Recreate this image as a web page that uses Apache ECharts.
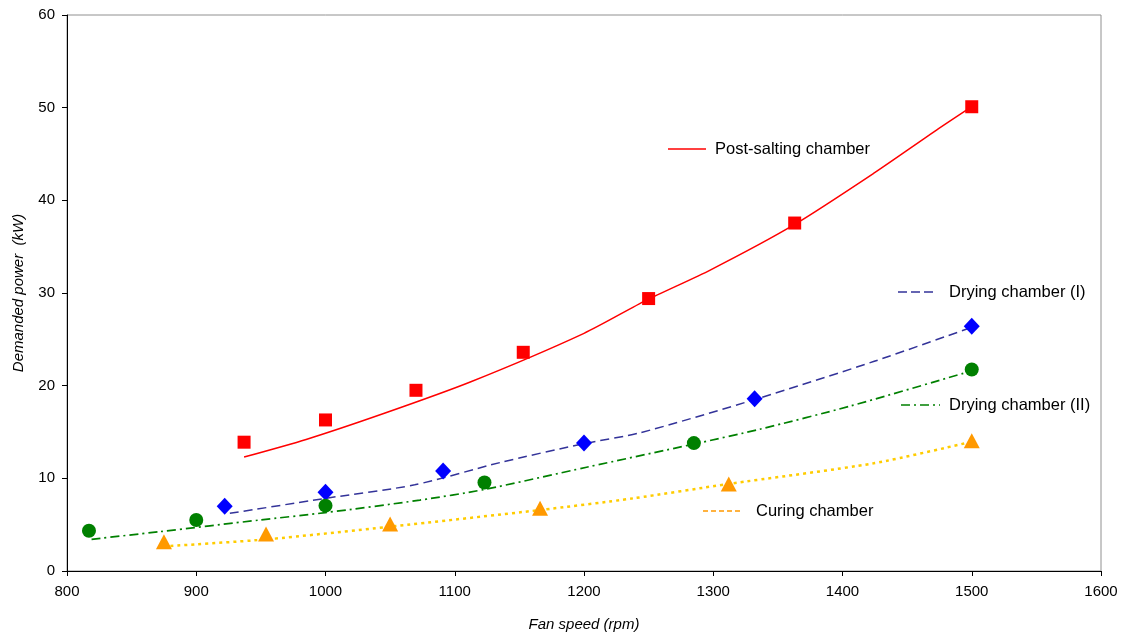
<!DOCTYPE html>
<html>
<head>
<meta charset="utf-8">
<script src="https://cdn.jsdelivr.net/npm/echarts@6/dist/echarts.min.js"></script>
<style>
  html, body { margin: 0; padding: 0; background: #fff; }
  #chart { width: 1129px; height: 636px; }
</style>
</head>
<body>
<div id="chart"></div>
<script>
// ---- Data ----
const xTicks = [800, 900, 1000, 1100, 1200, 1300, 1400, 1500, 1600];
const yTicks = [0, 10, 20, 30, 40, 50, 60];

const seriesNames = ['Post-salting chamber', 'Drying chamber (I)', 'Drying chamber (II)', 'Curing chamber'];

// measured points
const postSaltingRpm = [937, 1000, 1070, 1153, 1250, 1363, 1500];
const postSaltingKW  = [13.9, 16.3, 19.5, 23.6, 29.4, 37.55, 50.1];
const dryingIRpm = [922, 1000, 1091, 1200, 1332, 1500];
const dryingIKW  = [7.0, 8.5, 10.8, 13.8, 18.6, 26.4];
const dryingIIRpm = [817, 900, 1000, 1123, 1285, 1500];
const dryingIIKW  = [4.35, 5.5, 7.05, 9.55, 13.8, 21.75];
const curingRpm = [875, 954, 1050, 1166, 1312, 1500];
const curingKW  = [3.15, 4.0, 5.07, 6.76, 9.4, 14.05];

// fitted trend curves
const postSaltingFitRpm = [937, 985, 1045, 1112, 1200, 1248, 1298, 1363, 1424, 1473, 1500];
const postSaltingFitKW  = [12.3, 14.2, 17.0, 20.4, 25.65, 29.2, 32.5, 37.4, 42.9, 47.6, 50.1];
const dryingIFitRpm = [926, 1000, 1069, 1135, 1200, 1243, 1332, 1424, 1500];
const dryingIFitKW  = [6.22, 7.84, 9.3, 11.7, 13.75, 14.9, 18.5, 22.6, 26.3];
const dryingIIFitRpm = [819, 872, 949, 1000, 1073, 1123, 1202, 1285, 1336, 1406, 1500];
const dryingIIFitKW  = [3.42, 4.25, 5.5, 6.3, 7.65, 8.8, 11.2, 13.7, 15.3, 17.8, 21.6];
const curingFitRpm = [880, 955, 1050, 1166, 1238, 1312, 1424, 1500];
const curingFitKW  = [2.7, 3.42, 4.79, 6.58, 7.84, 9.4, 11.62, 13.95];

// ---- helpers ----
const zip = (xs, ys) => xs.map((x, i) => [x, ys[i]]);
const FONT = "'Liberation Sans', Arial, sans-serif";

const chart = echarts.init(document.getElementById('chart'), null, { renderer: 'canvas' });

function fitSeries(name, xs, ys, color, width, dash) {
  return {
    name: name, type: 'line', data: zip(xs, ys), smooth: 0.25,
    symbol: 'none', silent: true, z: 2,
    lineStyle: { color: color, width: width, type: dash }
  };
}
function pointSeries(name, xs, ys, symbol, size, color) {
  return {
    name: name + ' (data)', type: 'scatter', data: zip(xs, ys),
    symbol: symbol, symbolSize: size, z: 3,
    itemStyle: { color: color, opacity: 1 }
  };
}

const option = {
  animation: false,
  backgroundColor: '#ffffff',
  textStyle: { fontFamily: FONT },
  grid: {
    left: 67, right: 28, top: 15, bottom: 65,
    outerBoundsMode: 'none', containLabel: false,
    show: true, borderColor: '#909090', borderWidth: 1, backgroundColor: 'transparent'
  },
  xAxis: {
    type: 'value', min: xTicks[0], max: xTicks[xTicks.length - 1], interval: 100,
    name: 'Fan speed (rpm)', nameLocation: 'middle', nameGap: 46,
    nameTextStyle: { fontFamily: FONT, fontSize: 15, fontStyle: 'italic', color: '#000' },
    axisLine: { lineStyle: { color: '#000', width: 1 } },
    axisTick: { show: true, inside: false, length: 5, lineStyle: { color: '#000' } },
    axisLabel: { fontFamily: FONT, fontSize: 15, color: '#000', margin: 13, formatter: v => String(v) },
    splitLine: { show: false }
  },
  yAxis: {
    type: 'value', min: yTicks[0], max: yTicks[yTicks.length - 1], interval: 10,
    name: 'Demanded power  (kW)', nameLocation: 'middle', nameGap: 41,
    nameTextStyle: { fontFamily: FONT, fontSize: 15, fontStyle: 'italic', color: '#000' },
    axisLine: { show: true, lineStyle: { color: '#000', width: 1 } },
    axisTick: { show: true, inside: false, length: 5, lineStyle: { color: '#000' } },
    axisLabel: { fontFamily: FONT, fontSize: 15, color: '#000', margin: 12, formatter: v => String(v) },
    splitLine: { show: false }
  },
  series: [
    fitSeries(seriesNames[0], postSaltingFitRpm, postSaltingFitKW, '#FF0000', 1.5, 'solid'),
    fitSeries(seriesNames[1], dryingIFitRpm, dryingIFitKW, '#333399', 1.5, [9, 5]),
    fitSeries(seriesNames[2], dryingIIFitRpm, dryingIIFitKW, '#008000', 1.7, [9, 4, 2, 4]),
    fitSeries(seriesNames[3], curingFitRpm, curingFitKW, '#FFCC00', 2.5, [3, 4]),
    pointSeries(seriesNames[0], postSaltingRpm, postSaltingKW, 'rect', 13, '#FF0000'),
    pointSeries(seriesNames[1], dryingIRpm, dryingIKW, 'diamond', [16, 17], '#0000FF'),
    pointSeries(seriesNames[2], dryingIIRpm, dryingIIKW, 'circle', 14, '#008000'),
    pointSeries(seriesNames[3], curingRpm, curingKW, 'triangle', [16, 15], '#FF9900')
  ],
  graphic: [
    // legend samples and labels placed inside the plot, as in the reference
    { type: 'line', shape: { x1: 668, y1: 149, x2: 706, y2: 149 }, style: { stroke: '#FF0000', lineWidth: 1.5 } },
    { type: 'text', x: 715, y: 149, style: { text: seriesNames[0], fontFamily: FONT, fontSize: 16.5, fill: '#000', verticalAlign: 'middle' } },
    { type: 'line', shape: { x1: 898, y1: 292, x2: 933, y2: 292 }, style: { stroke: '#333399', lineWidth: 1.5, lineDash: [9, 4] } },
    { type: 'text', x: 949, y: 292, style: { text: seriesNames[1], fontFamily: FONT, fontSize: 16.5, fill: '#000', verticalAlign: 'middle' } },
    { type: 'line', shape: { x1: 901, y1: 405, x2: 940, y2: 405 }, style: { stroke: '#008000', lineWidth: 1.5, lineDash: [9, 4, 2, 4] } },
    { type: 'text', x: 949, y: 405, style: { text: seriesNames[2], fontFamily: FONT, fontSize: 16.5, fill: '#000', verticalAlign: 'middle' } },
    { type: 'line', shape: { x1: 703, y1: 511, x2: 743, y2: 511 }, style: { stroke: '#FF9900', lineWidth: 1.5, lineDash: [5, 3] } },
    { type: 'text', x: 756, y: 511, style: { text: seriesNames[3], fontFamily: FONT, fontSize: 16.5, fill: '#000', verticalAlign: 'middle' } }
  ]
};
chart.setOption(option);
</script>
</body>
</html>
